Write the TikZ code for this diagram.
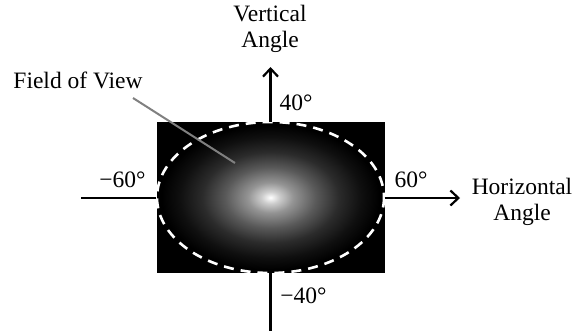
\documentclass[tikz,border=0pt]{standalone}
\usepackage{fontspec}
\setmainfont{Liberation Serif}
\usetikzlibrary{arrows.meta}
\pgfdeclareradialshading{fov}{\pgfpoint{0bp}{0bp}}{color(0bp)=(white); color(2bp)=(white!80!black); color(5bp)=(white!58!black); color(10bp)=(white!35!black); color(15bp)=(white!17!black); color(20bp)=(white!6!black); color(24bp)=(black); color(50bp)=(black)}
\begin{document}
\begin{tikzpicture}[x=1bp,y=-1bp,
  lbl/.style={font=\fontsize{23.5bp}{26bp}\selectfont, inner sep=0pt, text=black},
  axis/.style={line width=2.2bp, draw=black},
  tipend/.style={-{Straight Barb[length=8bp,width=15bp,line width=2.2bp]}},
  fovline/.style={draw=white, line width=2.6bp, dash pattern=on 10bp off 7bp},
  pointer/.style={draw=gray, line width=2bp}]
\useasboundingbox (0,0) rectangle (577,331);
\node[fill=black, minimum width=228bp, minimum height=151bp, inner sep=0pt] (box) at (270.5,197.5) {};
\shade[shading=fov] (270.5,197.5) ellipse [x radius=113.5, y radius=75.5];
\draw[fovline] (270.5,197.5) ellipse [x radius=113.5, y radius=75.5];
\coordinate (top) at (270.5,67);
\coordinate (bot) at (270.5,331);
\coordinate (lft) at (81,198);
\coordinate (rgt) at (460,198);
\draw[axis,tipend] (box.north) -- (top);
\draw[axis] (box.south) -- (bot);
\draw[axis] (box.west |- lft) -- (lft);
\draw[axis,tipend] (box.east |- rgt) -- (rgt);
\node[lbl, anchor=base, align=center] (ver) at (270,47) {Vertical\\Angle};
\node[lbl, anchor=base, align=center] (hor) at (522,220) {Horizontal\\Angle};
\node[lbl, anchor=base] (fov) at (78,88) {Field of View};
\node[lbl, anchor=base] (p40) at (296,110) {40°};
\node[lbl, anchor=base] (m60) at (122.5,187) {−60°};
\node[lbl, anchor=base] (p60) at (411,187) {60°};
\node[lbl, anchor=base] (m40) at (303.5,303) {−40°};
\coordinate (ps) at (133,98);
\coordinate (pe) at (235,163);
\draw[pointer] (ps) -- (pe);
\end{tikzpicture}
\end{document}
